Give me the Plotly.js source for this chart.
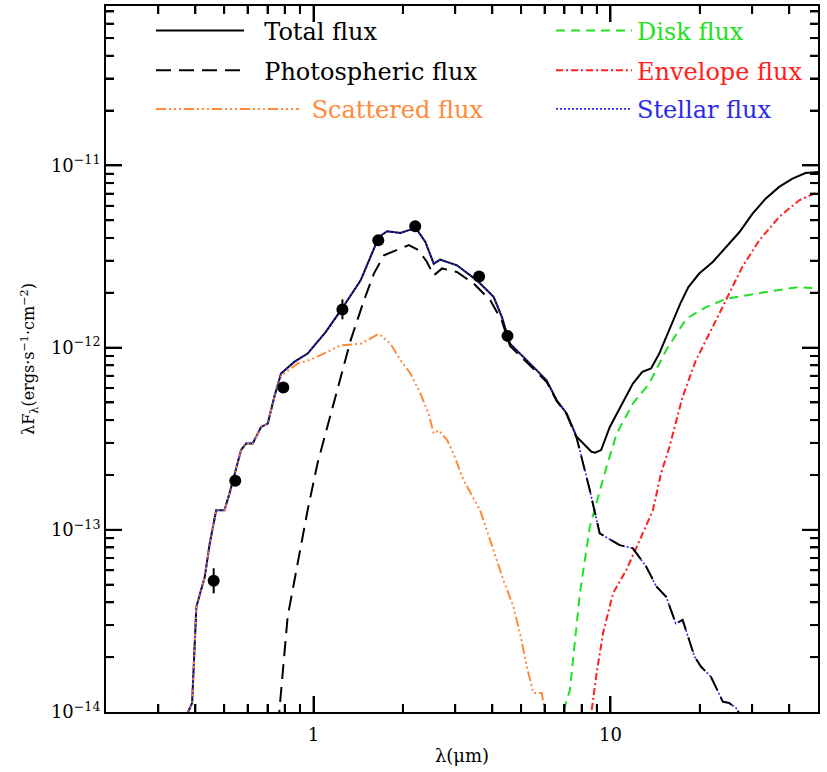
<!DOCTYPE html>
<html>
<head>
<meta charset="utf-8">
<script src="https://cdn.plot.ly/plotly-3.0.1.min.js"></script>
<style>html,body{margin:0;padding:0;background:#fff;}#chart{width:827px;height:772px;}</style>
</head>
<body>
<div id="chart"></div>
<script>
// ---------- data (wavelength in micron, lambda*F_lambda in erg s^-1 cm^-2) ----------
const totalWave = [0.372, 0.378, 0.390, 0.403, 0.430, 0.447, 0.470, 0.501, 0.521, 0.570, 0.593, 0.624, 0.666, 0.701, 0.738, 0.777, 0.861, 0.955, 1.10, 1.235, 1.441, 1.578, 1.66, 1.77, 1.963, 2.12, 2.23, 2.38, 2.54, 2.67, 3.04, 3.55, 4.04, 4.31, 4.59, 5.50, 6.09, 6.59, 7.12, 7.69, 8.20, 8.63, 8.87, 9.30, 9.95, 10.74, 11.9, 12.8, 13.7, 14.6, 15.8, 17.2, 18.3, 19.9, 22.1, 24.5, 27.2, 30.1, 33.3, 37.0, 41.0, 45.4, 50.0];
const totalFlux = [8.5e-15, 1.0e-14, 1.12e-14, 3.78e-14, 5.5e-14, 8.4e-14, 1.28e-13, 1.28e-13, 1.58e-13, 2.74e-13, 2.98e-13, 2.98e-13, 3.67e-13, 3.83e-13, 5.37e-13, 7.21e-13, 8.35e-13, 9.28e-13, 1.22e-12, 1.60e-12, 2.34e-12, 3.28e-12, 4.05e-12, 4.35e-12, 4.26e-12, 4.44e-12, 4.44e-12, 3.80e-12, 2.89e-12, 3.04e-12, 2.83e-12, 2.34e-12, 1.90e-12, 1.47e-12, 1.05e-12, 7.84e-13, 6.62e-13, 5.14e-13, 4.35e-13, 3.24e-13, 2.90e-13, 2.68e-13, 2.65e-13, 2.74e-13, 3.67e-13, 4.63e-13, 6.35e-13, 7.36e-13, 7.68e-13, 9.28e-13, 1.25e-12, 1.75e-12, 2.15e-12, 2.55e-12, 2.95e-12, 3.57e-12, 4.31e-12, 5.44e-12, 6.57e-12, 7.62e-12, 8.46e-12, 9.08e-12, 9.2e-12];

const photoWave = [0.760, 0.767, 0.818, 0.884, 0.955, 1.031, 1.204, 1.334, 1.479, 1.597, 1.726, 1.913, 2.094, 2.26, 2.41, 2.54, 2.71, 3.04, 3.46, 3.94, 4.31, 4.59, 5.50, 6.09, 6.59, 7.12, 7.69, 8.52, 9.20, 9.82, 10.74, 11.9, 13.2, 14.3, 15.4, 16.6, 17.5, 19.2, 20.2, 21.8, 23.9, 25.1, 26.5, 27.0, 27.3];
const photoFlux = [8.5e-15, 1.0e-14, 3.33e-14, 6.54e-14, 1.28e-13, 2.31e-13, 5.84e-13, 1.10e-12, 1.82e-12, 2.55e-12, 3.21e-12, 3.42e-12, 3.65e-12, 3.42e-12, 2.95e-12, 2.49e-12, 2.72e-12, 2.60e-12, 2.25e-12, 1.82e-12, 1.40e-12, 1.02e-12, 7.7e-13, 6.5e-13, 5.1e-13, 4.3e-13, 3.2e-13, 1.65e-13, 9.55e-14, 8.97e-14, 8.24e-14, 7.91e-14, 6.27e-14, 4.87e-14, 4.29e-14, 3.06e-14, 3.20e-14, 2.01e-14, 1.77e-14, 1.56e-14, 1.14e-14, 1.12e-14, 1.05e-14, 1.0e-14, 9.0e-15];

const scatWave = [0.372, 0.378, 0.390, 0.403, 0.430, 0.447, 0.470, 0.501, 0.521, 0.570, 0.593, 0.624, 0.666, 0.701, 0.738, 0.777, 0.884, 0.979, 1.114, 1.235, 1.441, 1.66, 1.817, 1.963, 2.12, 2.29, 2.44, 2.54, 2.64, 2.82, 2.96, 3.20, 3.64, 4.04, 4.36, 4.71, 4.96, 5.23, 5.50, 5.87, 6.02, 6.05];
const scatFlux = [8.5e-15, 1.0e-14, 1.12e-14, 3.78e-14, 5.5e-14, 8.4e-14, 1.28e-13, 1.28e-13, 1.58e-13, 2.74e-13, 2.98e-13, 2.98e-13, 3.67e-13, 3.83e-13, 5.37e-13, 7.0e-13, 8.18e-13, 8.6e-13, 9.47e-13, 1.03e-12, 1.05e-12, 1.19e-12, 1.05e-12, 8.53e-13, 7.21e-13, 5.60e-13, 4.35e-13, 3.38e-13, 3.52e-13, 3.10e-13, 2.62e-13, 1.87e-13, 1.28e-13, 7.74e-14, 5.30e-14, 3.78e-14, 2.70e-14, 1.77e-14, 1.27e-14, 1.27e-14, 1.0e-14, 8.5e-15];

const diskWave = [6.88, 6.93, 7.30, 7.89, 8.52, 9.20, 9.70, 10.5, 11.9, 13.5, 15.4, 18.0, 21.0, 24.5, 33.3, 43.2, 50.0];
const diskFlux = [8.5e-15, 1.0e-14, 1.32e-14, 4.48e-14, 1.04e-13, 1.65e-13, 2.22e-13, 3.38e-13, 4.93e-13, 6.35e-13, 9.68e-13, 1.44e-12, 1.67e-12, 1.85e-12, 2.02e-12, 2.15e-12, 2.11e-12];

const envWave = [8.60, 8.63, 8.98, 9.44, 10.2, 11.3, 12.2, 13.9, 14.8, 15.8, 17.5, 19.4, 22.1, 24.5, 27.8, 31.7, 37.0, 43.2, 50.0];
const envFlux = [8.5e-15, 1.0e-14, 1.63e-14, 2.70e-14, 4.48e-14, 6.01e-14, 7.91e-14, 1.28e-13, 2.04e-13, 2.85e-13, 5.37e-13, 8.53e-13, 1.30e-12, 1.82e-12, 2.77e-12, 3.88e-12, 5.21e-12, 6.44e-12, 7.15e-12];

const stelWave = [0.372, 0.378, 0.390, 0.403, 0.430, 0.447, 0.470, 0.501, 0.521, 0.570, 0.593, 0.624, 0.666, 0.701, 0.738, 0.777, 0.861, 0.955, 1.10, 1.235, 1.441, 1.578, 1.66, 1.77, 1.963, 2.12, 2.23, 2.38, 2.54, 2.67, 3.04, 3.55, 4.04, 4.31, 4.59, 5.50, 6.09, 6.59, 7.12, 7.69, 8.52, 9.20, 9.82, 10.74, 11.9, 13.2, 14.3, 15.4, 16.6, 17.5, 19.2, 20.2, 21.8, 23.9, 25.1, 26.5, 27.0, 27.3];
const stelFlux = [8.5e-15, 1.0e-14, 1.12e-14, 3.78e-14, 5.5e-14, 8.4e-14, 1.28e-13, 1.28e-13, 1.58e-13, 2.74e-13, 2.98e-13, 2.98e-13, 3.67e-13, 3.83e-13, 5.37e-13, 7.21e-13, 8.35e-13, 9.28e-13, 1.22e-12, 1.60e-12, 2.34e-12, 3.28e-12, 4.05e-12, 4.35e-12, 4.26e-12, 4.44e-12, 4.44e-12, 3.80e-12, 2.89e-12, 3.04e-12, 2.83e-12, 2.34e-12, 1.90e-12, 1.47e-12, 1.05e-12, 7.84e-13, 6.62e-13, 5.14e-13, 4.35e-13, 3.24e-13, 1.65e-13, 9.55e-14, 8.97e-14, 8.24e-14, 7.91e-14, 6.27e-14, 4.87e-14, 4.29e-14, 3.06e-14, 3.20e-14, 2.01e-14, 1.77e-14, 1.56e-14, 1.14e-14, 1.12e-14, 1.05e-14, 1.0e-14, 9.0e-15];

const obsWave = [0.461, 0.545, 0.791, 1.251, 1.652, 2.20, 3.61, 4.50];
const obsFlux = [5.25e-14, 1.86e-13, 6.04e-13, 1.62e-12, 3.88e-12, 4.63e-12, 2.46e-12, 1.16e-12];
const obsErrPlus = [0.9e-14, 0, 0, 0.22e-12, 0, 0, 0, 0];
const obsErrMinus = [0.77e-14, 0, 0, 0.19e-12, 0, 0, 0, 0];

const seriesNames = ['Total flux', 'Photospheric flux', 'Scattered flux', 'Disk flux', 'Envelope flux', 'Stellar flux'];

const xTickVals = [1, 10];
const xTickText = ['1', '10'];
const xMinorVals = [0.3, 0.4, 0.5, 0.6, 0.7, 0.8, 0.9, 2, 3, 4, 5, 6, 7, 8, 9, 20, 30, 40];
const yTickVals = [1e-14, 1e-13, 1e-12, 1e-11];
const yTickText = ['10<sup>\u221214</sup>', '10<sup>\u221213</sup>', '10<sup>\u221212</sup>', '10<sup>\u221211</sup>'];
const yMinorVals = [2e-14,3e-14,4e-14,5e-14,6e-14,7e-14,8e-14,9e-14,2e-13,3e-13,4e-13,5e-13,6e-13,7e-13,8e-13,9e-13,2e-12,3e-12,4e-12,5e-12,6e-12,7e-12,8e-12,9e-12,2e-11,3e-11,4e-11,5e-11,6e-11,7e-11];

// ---------- styles ----------
const FONT = 'DejaVu Serif';
const C = {total:'#000000', photo:'#000000', scat:'#ff8a3a', disk:'#22e022', env:'#ff2020', stel:'#2a2aee'};
const NB = '\u00a0';

const traces = [
  {x: totalWave, y: totalFlux, mode:'lines', name: NB+NB+seriesNames[0], legend:'legend',
   line:{color:C.total, width:2}},
  {x: diskWave, y: diskFlux, mode:'lines', name: seriesNames[3], legend:'legend4',
   line:{color:C.disk, width:2, dash:'9px,6px'}},
  {x: envWave, y: envFlux, mode:'lines', name: seriesNames[4], legend:'legend5',
   line:{color:C.env, width:2, dash:'7px,3px,2px,3px'}},
  {x: scatWave, y: scatFlux, mode:'lines', name: NB+seriesNames[2], legend:'legend3',
   line:{color:C.scat, width:2, dash:'10px,3px,2px,3px,2px,3px,2px,3px'}},
  {x: stelWave, y: stelFlux, mode:'lines', name: seriesNames[5], legend:'legend6',
   line:{color:C.stel, width:1.6, dash:'2px,2px'}},
  {x: photoWave, y: photoFlux, mode:'lines', name: NB+NB+seriesNames[1], legend:'legend2',
   line:{color:C.photo, width:2, dash:'15px,8px'}},
  {x: obsWave, y: obsFlux, mode:'markers', showlegend:false,
   marker:{color:'#000', size:12},
   error_y:{type:'data', symmetric:false, array: obsErrPlus, arrayminus: obsErrMinus, color:'#000', thickness:2, width:0}}
];

const W = 827, H = 772, ML = 106, MR = 9, MT = 6, MB = 60;
const PW = W - ML - MR, PH = H - MT - MB;
function px2x(p){ return (p - ML) / PW; }
function py2y(p){ return (H - MB - p) / PH; }

function mkLegend(xp, yp, iw, color){
  return {x: px2x(xp), y: py2y(yp), xanchor:'left', yanchor:'middle', bgcolor:'rgba(0,0,0,0)',
          borderwidth:0, itemwidth: iw, font:{family:FONT, size:24, color: color},
          itemclick:false, itemdoubleclick:false};
}

const XR = [Math.log10(0.2), Math.log10(50)];
const YR = [-14, Math.log10(7.5e-11)];

// frame tick marks (inside, on all four sides), placed on the same log scale as the axes
const MAJ = 16, MIN = 8;
const tickLine = {type:'line', line:{color:'#000', width:2}, layer:'above'};
function xf(v){ return (Math.log10(v) - XR[0]) / (XR[1] - XR[0]); }
function yf(v){ return (Math.log10(v) - YR[0]) / (YR[1] - YR[0]); }
const shapes = [];
function addX(v, len){
  const f = xf(v), h = len / PH;
  shapes.push(Object.assign({xref:'paper', yref:'paper', x0:f, x1:f, y0:0, y1:h}, tickLine));
  shapes.push(Object.assign({xref:'paper', yref:'paper', x0:f, x1:f, y0:1, y1:1 - h}, tickLine));
}
function addY(v, len){
  const f = yf(v), w = len / PW;
  shapes.push(Object.assign({xref:'paper', yref:'paper', y0:f, y1:f, x0:0, x1:w}, tickLine));
  shapes.push(Object.assign({xref:'paper', yref:'paper', y0:f, y1:f, x0:1, x1:1 - w}, tickLine));
}
xTickVals.forEach(v => addX(v, MAJ));
xMinorVals.forEach(v => addX(v, MIN));
yTickVals.slice(1).forEach(v => addY(v, MAJ));
yMinorVals.forEach(v => addY(v, MIN));

const minorTicks = {ticks:'inside', ticklen:MIN, tickwidth:2, tickcolor:'#000', dtick:'D1', showgrid:false};

const layout = {
  width: W, height: H,
  margin:{l:ML, r:MR, t:MT, b:MB},
  paper_bgcolor:'#fff', plot_bgcolor:'#fff',
  font:{family:FONT, size:18, color:'#000'},
  showlegend:true,
  shapes: shapes,
  xaxis: {
    type:'log', range:XR,
    tickmode:'array', tickvals:xTickVals, ticktext:xTickText,
    ticks:'inside', ticklen:MAJ, tickwidth:2, tickcolor:'#000',
    showline:true, linewidth:2, linecolor:'#000', mirror:'ticks',
    showgrid:false, zeroline:false, ticklabelstandoff:5,
    tickfont:{family:FONT, size:18, color:'#000'},
    minor: minorTicks,
    title:{text:'\u03bb(\u03bcm)', font:{family:FONT, size:18, color:'#000'}, standoff:6}
  },
  yaxis: {
    type:'log', range:YR,
    tickmode:'array', tickvals:yTickVals, ticktext:yTickText,
    ticks:'inside', ticklen:MAJ, tickwidth:2, tickcolor:'#000',
    showline:true, linewidth:2, linecolor:'#000', mirror:'ticks',
    showgrid:false, zeroline:false,
    tickfont:{family:FONT, size:18, color:'#000'},
    minor: minorTicks,
    title:{text:'\u03bbF<sub>\u03bb</sub>(ergs\u00b7s<sup>\u22121</sup>\u00b7cm<sup>\u22122</sup>)', font:{family:FONT, size:16, color:'#000'}, standoff:12}
  },
  legend:  mkLegend(151, 31, 88, '#000'),
  legend2: mkLegend(151, 70.7, 88, '#000'),
  legend3: mkLegend(151, 109.3, 143, C.scat),
  legend4: mkLegend(551, 31, 76, C.disk),
  legend5: mkLegend(551, 70.7, 76, C.env),
  legend6: mkLegend(551, 109.3, 76, C.stel)
};

Plotly.newPlot('chart', traces, layout, {staticPlot:true, displayModeBar:false});
</script>
</body>
</html>
